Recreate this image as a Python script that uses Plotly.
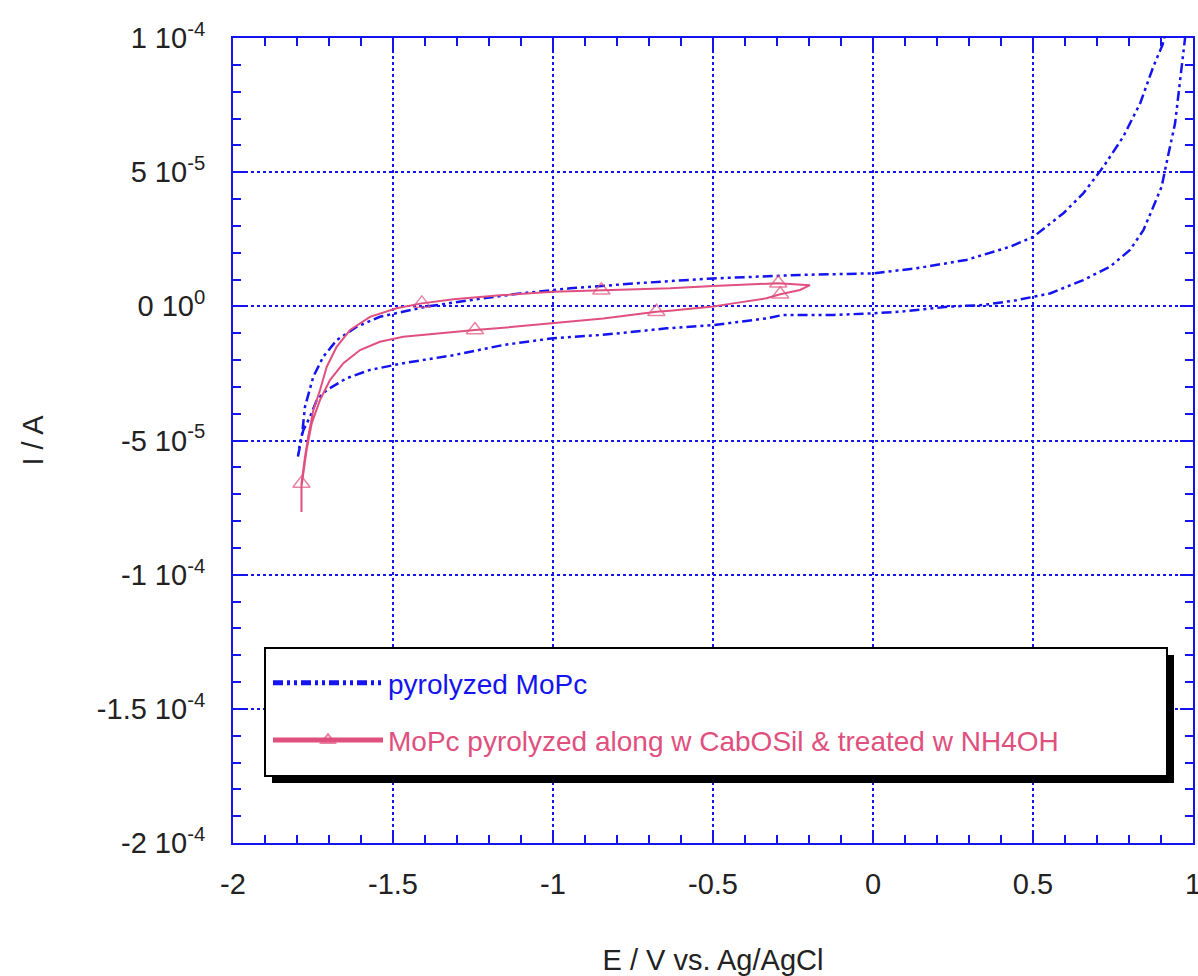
import numpy as np
import plotly.graph_objects as go

# ---- data (E in V vs Ag/AgCl, I in units of 1e-5 A) ----
blue_x = [-1.797, -1.785, -1.775, -1.749, -1.718, -1.676, -1.613, -1.541, -1.469, -1.395,
          -1.259, -1.103, -0.947, -0.738, -0.499, -0.228, 0.001, 0.136, 0.292, 0.428,
          0.501, 0.595, 0.657, 0.720, 0.782, 0.835, 0.876, 0.905, 0.912, 0.930,
          0.985, 0.976, 0.970, 0.959, 0.944, 0.917, 0.902, 0.876, 0.845, 0.803, 0.741, 0.657, 0.553,
          0.449, 0.345, 0.240, 0.084, 0.001, -0.121, -0.281, -0.333, -0.499, -0.645,
          -0.749, -0.853, -1.000, -1.155, -1.311, -1.468, -1.572, -1.645, -1.707, -1.738,
          -1.759, -1.780, -1.791, -1.797]
blue_y = [-5.6, -4.86, -3.74, -2.62, -1.88, -1.26, -0.76, -0.39, -0.20, -0.01,
          0.23, 0.48, 0.67, 0.86, 1.04, 1.17, 1.23, 1.42, 1.73, 2.22,
          2.59, 3.47, 4.21, 5.20, 6.32, 7.57, 8.93, 9.75, 10.1, 11.0,
          11.0, 10.1, 9.43, 8.43, 6.82, 5.33, 4.46, 3.71, 2.84, 2.10, 1.48, 0.98, 0.48,
          0.23, 0.05, -0.01, -0.20, -0.26, -0.32, -0.32, -0.45, -0.70, -0.82,
          -0.95, -1.07, -1.19, -1.44, -1.82, -2.12, -2.37, -2.68, -3.12, -3.49,
          -4.11, -4.61, -5.11, -5.6]

pink_x = [-1.786, -1.786, -1.775, -1.765, -1.749, -1.728, -1.707, -1.676, -1.634, -1.572,
          -1.489, -1.410, -1.311, -1.155, -1.000, -0.849, -0.634, -0.499, -0.296, -0.197,
          -0.228, -0.290, -0.333, -0.437, -0.499, -0.634, -0.677, -0.843, -1.000, -1.155,
          -1.244, -1.364, -1.468, -1.541, -1.603, -1.655, -1.697, -1.728, -1.754, -1.770,
          -1.780, -1.786]
pink_y = [-7.66, -6.60, -5.61, -4.86, -3.87, -3.12, -2.25, -1.51, -0.88, -0.39,
          -0.07, 0.11, 0.26, 0.42, 0.54, 0.60, 0.67, 0.76, 0.86, 0.79,
          0.61, 0.45, 0.30, 0.11, -0.01, -0.16, -0.20, -0.45, -0.63, -0.80,
          -0.88, -1.01, -1.13, -1.32, -1.63, -2.12, -2.75, -3.49, -4.36, -5.36,
          -6.35, -6.72]
pink_marked = [False, True, False, False, False, False, False, False, False, False,
               False, True, False, False, False, True, False, False, True, False,
               False, True, False, False, False, False, True, False, False, False,
               True, False, False, False, False, False, False, False, False, False,
               False, False]

y_tickvals = [1e-4, 5e-5, 0, -5e-5, -1e-4, -1.5e-4, -2e-4]
y_ticktext = ["1 10<sup>-4</sup>", "5 10<sup>-5</sup>", "0 10<sup>0</sup>",
              "-5 10<sup>-5</sup>", "-1 10<sup>-4</sup>", "-1.5 10<sup>-4</sup>",
              "-2 10<sup>-4</sup>"]
x_tickvals = [-2, -1.5, -1, -0.5, 0, 0.5, 1]
x_ticktext = ["-2", "-1.5", "-1", "-0.5", "0", "0.5", "1"]

BLUE = "#1414f0"
PINK = "#e0507e"
FONT = "Liberation Sans, Arial, sans-serif"
TXT = "#222"

fig = go.Figure()
fig.add_trace(go.Scatter(
    x=blue_x, y=np.array(blue_y) * 1e-5, mode="lines",
    line=dict(color=BLUE, width=2.5, dash="10px,4px,3px,4px,3px,4px"),
    name=f"<span style='color:{BLUE}'>pyrolyzed MoPc</span>",
    legendgroup="a"))
fig.add_trace(go.Scatter(
    x=pink_x, y=np.array(pink_y) * 1e-5, mode="lines+markers",
    line=dict(color=PINK, width=2),
    marker=dict(symbol="triangle-up-open", color=PINK,
                size=[15 if m else 0 for m in pink_marked], line=dict(width=1.5, color=PINK)),
    name=f"<span style='color:{PINK}'>MoPc pyrolyzed along w CabOSil &amp; treated w NH4OH</span>",
    legendgroup="b"))

axis_common = dict(
    showline=True, linecolor=BLUE, linewidth=2, mirror="allticks",
    ticks="inside", ticklen=13, tickwidth=1.5, tickcolor=BLUE,
    showgrid=True, gridcolor=BLUE, gridwidth=1.8, griddash="dot",
    zeroline=False, automargin=False, ticklabeloverflow="allow",
    tickfont=dict(family=FONT, size=29, color=TXT),
)

fig.update_xaxes(
    range=[-2, 1], tickvals=x_tickvals, ticktext=x_ticktext,
    minor=dict(dtick=0.1, tick0=0, ticks="inside", ticklen=8, tickcolor=BLUE, tickwidth=1.5, showgrid=False),
    title=dict(text="E / V vs. Ag/AgCl", font=dict(family=FONT, size=29, color=TXT), standoff=53),
    ticklabelstandoff=14,
    **axis_common)
fig.update_yaxes(
    range=[-2e-4, 1e-4], tickvals=y_tickvals, ticktext=y_ticktext,
    minor=dict(dtick=1e-5, tick0=0, ticks="inside", ticklen=8, tickcolor=BLUE, tickwidth=1.5, showgrid=False),
    title=dict(text="I / A", font=dict(family=FONT, size=29, color=TXT), standoff=45),
    ticklabelstandoff=20,
    **axis_common)

# legend frame with drop shadow
fig.add_shape(type="rect", xref="paper", yref="paper",
              x0=(272 - 233) / 960, x1=(1174 - 233) / 960,
              y0=(843 - 783) / 805, y1=(843 - 655) / 805,
              fillcolor="black", line=dict(width=0), layer="above")
fig.add_shape(type="rect", xref="paper", yref="paper",
              x0=(265 - 233) / 960, x1=(1167 - 233) / 960,
              y0=(843 - 776) / 805, y1=(843 - 648) / 805,
              fillcolor="white", line=dict(width=2, color="black"), layer="above")

fig.update_layout(
    width=1198, height=976,
    margin=dict(l=233, r=5, t=38, b=133),
    paper_bgcolor="white", plot_bgcolor="white",
    showlegend=True,
    legend=dict(x=(268 - 233) / 960, y=(843 - 658) / 805, xanchor="left", yanchor="top",
                bgcolor="rgba(0,0,0,0)", borderwidth=0,
                font=dict(family=FONT, size=28, color=TXT),
                itemsizing="constant", itemwidth=110, tracegroupgap=18,
                traceorder="grouped"),
)

# remove the default page margin so the 1198x976 figure fills the window exactly
fig.write_html("out.html", config={"displayModeBar": False},
               post_script="document.body.style.margin='0px';document.body.style.overflow='hidden';")
